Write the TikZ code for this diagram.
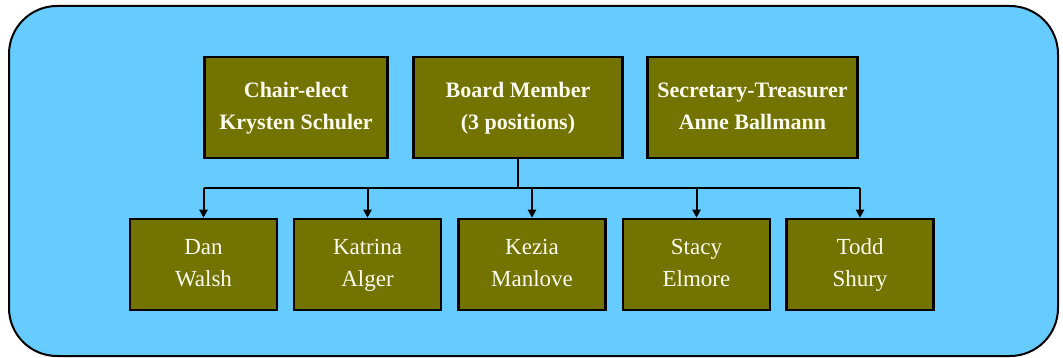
\documentclass[tikz,border=0pt]{standalone}
\usepackage{fontspec}
\setmainfont{Liberation Serif}
\usetikzlibrary{arrows.meta}
\definecolor{panelblue}{RGB}{102,204,255}
\definecolor{boxolive}{RGB}{115,115,0}
\definecolor{cream}{RGB}{250,250,238}
\tikzset{
  officer/.style={draw=black, line width=2.5pt, fill=boxolive, text=cream, align=center,
    minimum height=101pt, inner sep=0pt, font=\bfseries\fontsize{22}{32}\selectfont},
  member/.style={draw=black, line width=2.5pt, fill=boxolive, text=cream, align=center,
    minimum width=147pt, minimum height=91pt, inner sep=0pt, font=\fontsize{23}{32}\selectfont},
  link/.style={line width=2pt},
  arrow/.style={link, -{Triangle[length=8pt,width=8pt]}}
}
\newcommand{\officer}[5]{ \node[officer, minimum width=#3] (#1) at ( #2 , 107.5 ) {\strut#4\\\strut#5};}
\newcommand{\member}[4]{ \node[member] (#1) at ( #2 , 264.5 ) {\strut#3\\\strut#4};}

\begin{document}
\begin{tikzpicture}[x=1pt,y=-1pt]
        \useasboundingbox (0,0) rectangle (1063,358);
        % panel
        \draw[line width=2pt, fill=panelblue, rounded corners=48pt] (9,6) rectangle (1058,356);
        % officers
        \officer{chair}{296}{183pt}{Chair-elect}{Krysten Schuler}
        \officer{board}{518}{209pt}{Board Member}{(3 positions)}
        \officer{secretary}{752.5}{210pt}{Secretary-Treasurer}{Anne Ballmann}
        % board members
        \member{dan}{203.5}{Dan}{Walsh}
        \member{katrina}{367.5}{Katrina}{Alger}
        \member{kezia}{532}{Kezia}{Manlove}
        \member{stacy}{696.5}{Stacy}{Elmore}
        \member{todd}{860}{Todd}{Shury}
        % links
        \coordinate (bus) at (518,188);
        \draw[link] (board.south) -- (bus);
        \draw[link] (dan.north |- bus) -- (todd.north |- bus);
        \foreach \m in {dan,katrina,kezia,stacy,todd}
            \draw[arrow] (\m.north |- bus) -- (\m.north);
    \end{tikzpicture}
\end{document}
